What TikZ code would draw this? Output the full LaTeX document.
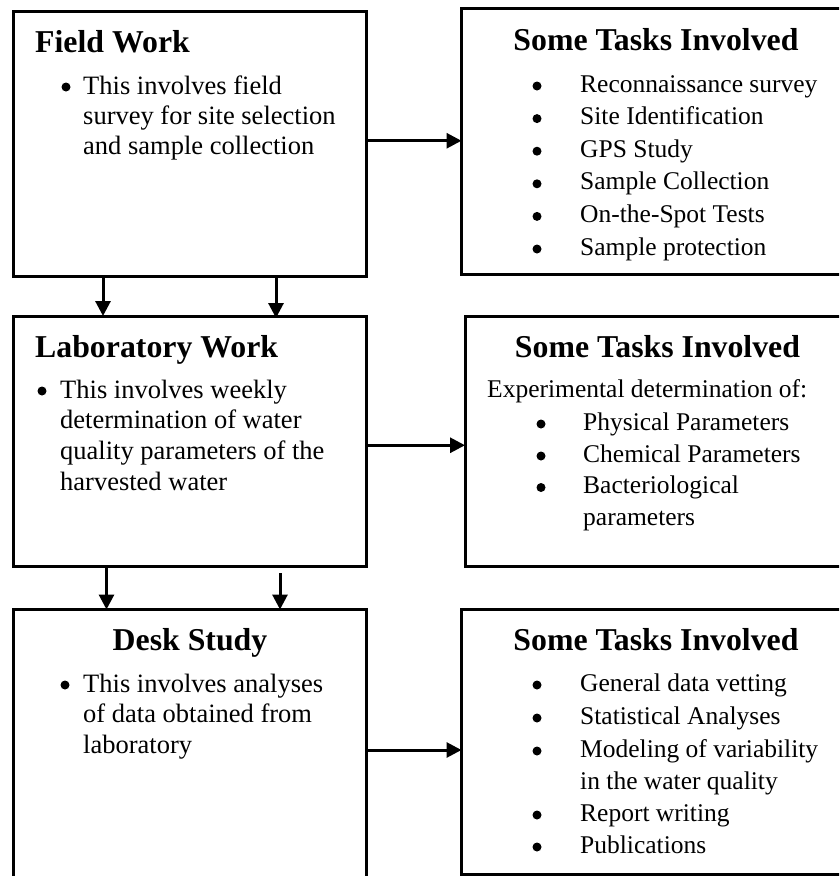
\documentclass[tikz,border=0pt]{standalone}
\usepackage{fontspec}
\setmainfont{Liberation Serif}
\usetikzlibrary{arrows.meta}

\begin{document}
\begin{tikzpicture}[x=1pt,y=-1pt,
		box/.style={draw, line width=3pt, inner sep=0pt, outer sep=0pt, anchor=north west},
		arr/.style={line width=3pt, -{Triangle[length=15pt,width=15pt]}},
		head/.style={font=\fontsize{31.8}{36}\selectfont\bfseries, inner sep=0pt},
		txt/.style={font=\fontsize{26.5}{30}\selectfont, inner sep=0pt, anchor=base west},
		itm/.style={font=\fontsize{25.5}{30}\selectfont, inner sep=0pt, anchor=base west},
		bul/.style={circle, fill, inner sep=0pt, minimum size=9pt}]
		
		\useasboundingbox (0,0) rectangle (839,876);
		\clip (0,0) rectangle (839,876);
		
		% the six boxes
		\node[box, minimum width=353pt, minimum height=265.5pt] (field) at (13.5,11) {};
		\node[box, minimum width=390pt, minimum height=266pt] (tasks1) at (461.5,8.5) {};
		\node[box, minimum width=353pt, minimum height=250.5pt] (lab) at (13.5,316) {};
		\node[box, minimum width=390pt, minimum height=250pt] (tasks2) at (465,316.5) {};
		\node[box, minimum width=353pt, minimum height=280pt] (desk) at (13.5,609.5) {};
		\node[box, minimum width=390pt, minimum height=265pt] (tasks3) at (461.5,609.5) {};
		
		% field work
		\node[head, anchor=base west] (fieldhead) at (35,52) {Field Work};
		\node[bul] (fieldbul) at (66,87) {};
		\foreach \y/\t [count=\i] in {94/This involves field, 124/survey for site selection, 154/and sample collection}
		\node[txt] (fieldtxt\i) at (83,\y) {\t};
		
		\node[head, anchor=base] (taskshead1) at (656,50) {Some Tasks Involved};
		\foreach \t [count=\i] in {Reconnaissance survey, Site Identification, GPS Study, Sample Collection, On-the-Spot Tests, Sample protection}{
			\node[bul] (bul1\i) at (537,{86+32.6*(\i-1)}) {};
			\node[itm] (item1\i) at (580,{92+32.6*(\i-1)}) {\t};
		}
		
		% laboratory work
		\node[head, anchor=base west] (labhead) at (35,357) {Laboratory Work};
		\node[bul] (labbul) at (42,391) {};
		\foreach \y/\t [count=\i] in {398/This involves weekly, 428.5/determination of water, 459/quality parameters of the, 490/harvested water}
		\node[txt] (labtxt\i) at (60,\y) {\t};
		
		\node[head, anchor=base] (taskshead2) at (657.5,357) {Some Tasks Involved};
		\node[itm] (expt) at (487,397) {Experimental determination of:};
		\foreach \y/\t [count=\i] in {430/Physical Parameters, 462/Chemical Parameters, 493.5/Bacteriological, 525/parameters}
		\node[itm] (item2\i) at (583,\y) {\t};
		\foreach \y [count=\i] in {430,462,493.5}
		\node[bul] (bul2\i) at (541,\y-6) {};
		
		% desk study
		\node[head, anchor=base] (deskhead) at (190,650) {Desk Study};
		\node[bul] (deskbul) at (65,685) {};
		\foreach \y/\t [count=\i] in {692/This involves analyses, 722.5/of data obtained from, 753/laboratory}
		\node[txt] (desktxt\i) at (83,\y) {\t};
		
		\node[head, anchor=base] (taskshead3) at (656,650) {Some Tasks Involved};
		\foreach \y/\t [count=\i] in {691/General data vetting, 724/Statistical Analyses, 757/Modeling of variability, 789/in the water quality, 821/Report writing, 853/Publications}
		\node[itm] (item3\i) at (580,\y) {\t};
		\foreach \y [count=\i] in {691,724,757,821,853}
		\node[bul] (bul3\i) at (537,\y-6) {};
		
		% arrows
		\draw[arr] ([yshift=3pt]field.east) -- ([yshift=3pt]field.east -| tasks1.west);
		\draw[arr] ([yshift=-4pt]lab.east) -- ([yshift=-4pt]lab.east -| tasks2.west);
		\draw[arr] (desk.east |- 0,750) -- (tasks3.west |- 0,750);
		
		\draw[arr] ([xshift=89.5pt]field.south west) -- ([xshift=89.5pt]lab.north west);
		\draw[arr] ([xshift=262.5pt]field.south west) -- ([xshift=262.5pt,yshift=-2pt]lab.north west);
		\draw[arr] ([xshift=93pt]lab.south west) -- ([xshift=93pt]desk.north west);
		\coordinate (gap) at (280,573);
		\draw[arr] (gap) -- (gap |- desk.north);
\end{tikzpicture}
\end{document}
